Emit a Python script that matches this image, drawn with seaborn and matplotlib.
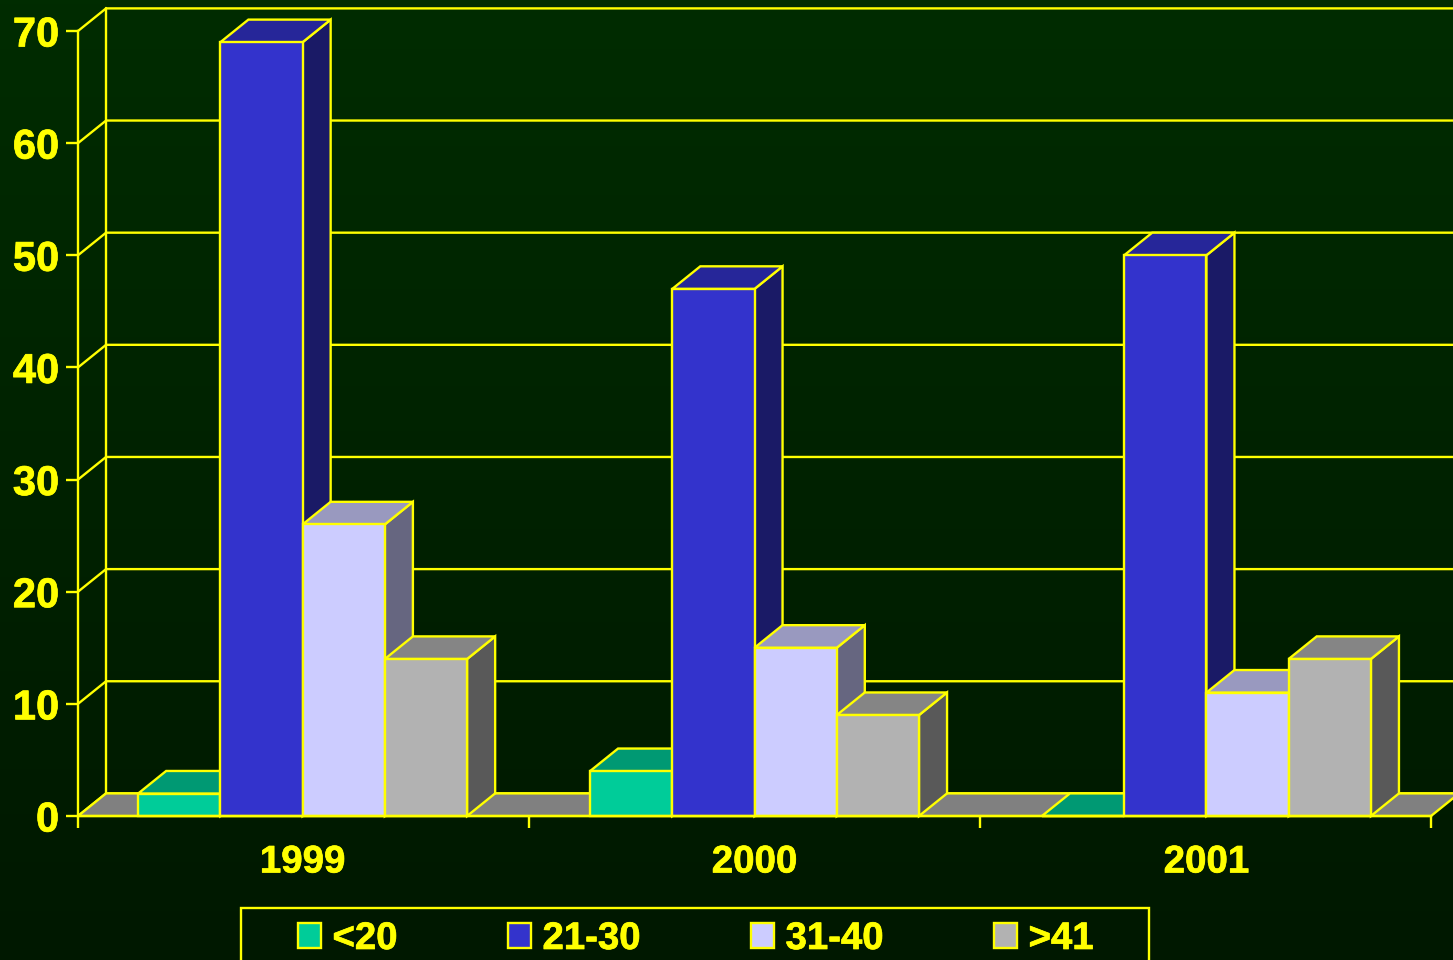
# plot.py
import numpy as np
import pandas as pd
import matplotlib
matplotlib.use('Agg')
import matplotlib.pyplot as plt
import matplotlib.patheffects as pe
from matplotlib.colors import to_rgb
from matplotlib.patches import Patch, Rectangle
from matplotlib.transforms import IdentityTransform
import seaborn as sns

years = ["1999", "2000", "2001"]
ages = ["<20", "21-30", "31-40", ">41"]
under_20 = [2, 4, 0]
age_21_30 = [69, 47, 50]
age_31_40 = [26, 15, 11]
over_41 = [14, 9, 14]
y_ticks = [0, 10, 20, 30, 40, 50, 60, 70]
colors = ["#00CC99", "#3333CC", "#CCCCFF", "#B2B2B2"]

yellow = "#FFFF00"
lw = 1.7

df = pd.DataFrame({
    "year": years * 4,
    "age": np.repeat(ages, 3),
    "value": under_20 + age_21_30 + age_31_40 + over_41,
})

sns.set_theme(style="white")
plt.rcParams['font.family'] = ['Liberation Sans', 'DejaVu Sans']
plt.rcParams['font.weight'] = 'bold'

W, H = 1453, 960
fig = plt.figure(figsize=(W / 100, H / 100), dpi=100)

# dark green backdrop, lighter at the top
bg = fig.add_axes([0, 0, 1, 1], zorder=-1)
shade = np.linspace(0, 1, 256)[:, None, None]
bg.imshow(np.array([0, 44 / 255, 0]) * (1 - shade) + np.array([0, 24 / 255, 0]) * shade, aspect='auto')
bg.axis('off')

ax = fig.add_axes([78 / W, (H - 816) / H, (1431 - 78) / W, (816 - 31) / H])
ax.set_facecolor('none')
sns.barplot(data=df, x="year", y="value", hue="age", hue_order=ages, order=years,
            palette=colors, saturation=1, width=0.728, gap=0, edgecolor=yellow,
            linewidth=lw, legend=False, ax=ax)

xmin, xmax = -0.497, 2.497
ax.set_xlim(xmin, xmax)
ax.set_ylim(0, 70)

# depth of the fake 3d box, in data units
dx = 28 / 451
dy = 22.6 / 11.21

# back wall and left wall
for t in y_ticks:
    ax.plot([xmin, xmin + dx, xmax + dx], [t, t + dy, t + dy], color=yellow, lw=lw,
            clip_on=False, zorder=1)
ax.plot([xmin + dx, xmin + dx], [dy, 70 + dy], color=yellow, lw=lw, clip_on=False, zorder=1)

# floor
ax.fill([xmin, xmax, xmax + dx, xmin + dx], [0, 0, dy, dy], facecolor="#808080",
        edgecolor=yellow, lw=lw, clip_on=False, zorder=1.5)

# sides and tops of the bars, left to right so nearer ones overlap
bars = []
for container, color in zip(ax.containers, colors):
    for patch in container:
        bars.append((patch, to_rgb(color)))
bars.sort(key=lambda b: b[0].get_x())

z = 3
for patch, rgb in bars:
    x0 = patch.get_x()
    x1 = x0 + patch.get_width()
    h = patch.get_height()
    ax.fill([x1, x1 + dx, x1 + dx, x1], [0, dy, h + dy, h], facecolor=np.array(rgb) * 0.5,
            edgecolor=yellow, lw=lw, clip_on=False, zorder=z)
    ax.fill([x0, x1, x1 + dx, x0 + dx], [h, h, h + dy, h + dy], facecolor=np.array(rgb) * 0.75,
            edgecolor=yellow, lw=lw, clip_on=False, zorder=z + 0.1)
    patch.set_zorder(z + 0.2)
    patch.set_clip_on(False)
    z += 1

# axes
sns.despine(ax=ax, top=True, right=True)
for side in ['left', 'bottom']:
    ax.spines[side].set_color(yellow)
    ax.spines[side].set_linewidth(lw)
    ax.spines[side].set_zorder(z)
ax.set_xlabel("")
ax.set_ylabel("")
ax.set_yticks(y_ticks)
ax.set_xticks([xmin, 0.5, 1.5, xmax], labels=[])
ax.set_xticks([0, 1, 2], labels=years, minor=True)
ax.tick_params(axis='x', which='major', length=8.6, width=lw, color=yellow, bottom=True)
ax.tick_params(axis='x', which='minor', length=0, pad=20.5, labelsize=27.7, labelcolor=yellow, bottom=True)
ax.tick_params(axis='y', length=8.6, width=lw, color=yellow, pad=5, labelsize=30,
               labelcolor=yellow, left=True)

# legend: box runs off the bottom of the picture
handles = [Patch(facecolor=c, edgecolor=yellow, lw=lw, label=a) for c, a in zip(colors, ages)]
leg = ax.legend(handles=handles, ncol=4, frameon=False, loc='center left',
                bbox_to_anchor=(298 / W, (H - 939) / H), bbox_transform=fig.transFigure,
                prop={'size': 27.6, 'weight': 'bold'}, labelcolor=yellow, borderpad=0, borderaxespad=0,
                handlelength=0.61, handleheight=0.61, handletextpad=0.29, columnspacing=2.88)
fig.add_artist(Rectangle((240.5, -10), 908, 62, transform=IdentityTransform(), facecolor='none',
                         edgecolor=yellow, lw=lw))

# the original lettering is a touch heavier than Liberation bold
heavy = [pe.withStroke(linewidth=0.5, foreground=yellow)]
texts = ax.get_yticklabels() + ax.get_xticklabels(minor=True) + leg.get_texts()
for t in texts:
    t.set_path_effects(heavy)

fig.savefig("out.png", dpi=100)
